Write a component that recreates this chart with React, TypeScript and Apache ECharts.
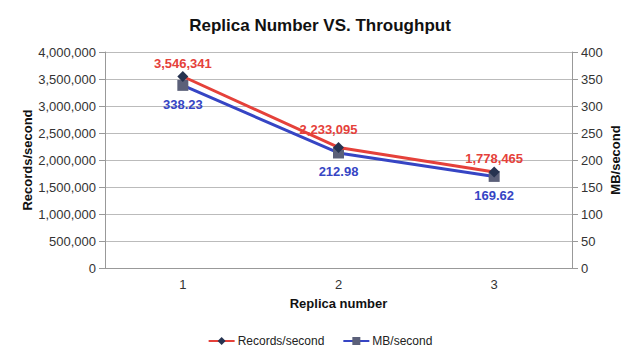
import React, { useEffect, useRef } from "react";
import * as echarts from "echarts";

const categories = ["1", "2", "3"];
const recordsPerSecond = [3546341, 2233095, 1778465];
const mbPerSecond = [338.23, 212.98, 169.62];
const leftAxisName = "Records/second";
const rightAxisName = "MB/second";

export default function App() {
  const ref = useRef<HTMLDivElement>(null);
  useEffect(() => {
    const chart = echarts.init(ref.current!, undefined, { renderer: "svg" });
    const font = "Liberation Sans, Arial, sans-serif";
    const redLabelTweak = [
      { distance: 1, offset: [0, 0] },
      { distance: 6, offset: [-10, 0] },
      { distance: 1, offset: [0, 0] },
    ];
    const nameStyle = (text: string) => ({
      text,
      align: "center",
      verticalAlign: "middle",
      fill: "#111",
      font: `bold 13px ${font}`,
    });
    chart.setOption({
      animation: false,
      backgroundColor: "#ffffff",
      textStyle: { fontFamily: font },
      title: {
        text: "Replica Number VS. Throughput",
        left: "center",
        top: 12,
        textStyle: { fontSize: 17, fontWeight: "bold", color: "#111", fontFamily: font },
      },
      grid: { left: 105, right: 68, top: 52, bottom: 93 },
      graphic: [
        { type: "text", x: 27, y: 160, rotation: Math.PI / 2, style: nameStyle(leftAxisName) },
        { type: "text", x: 615, y: 160, rotation: Math.PI / 2, style: nameStyle(rightAxisName) },
      ],
      legend: {
        bottom: 9,
        left: "center",
        itemWidth: 26,
        itemHeight: 10,
        itemGap: 18,
        textStyle: { fontSize: 12, color: "#222", fontFamily: font, padding: [0, 0, 0, -2] },
        data: [leftAxisName, rightAxisName],
      },
      xAxis: {
        type: "category",
        data: categories,
        name: "Replica number",
        nameLocation: "middle",
        nameGap: 29,
        nameTextStyle: { fontSize: 13, fontWeight: "bold", color: "#111" },
        axisLine: { lineStyle: { color: "#999" } },
        axisTick: { length: 3, lineStyle: { color: "#999" } },
        axisLabel: { fontSize: 13, color: "#333", margin: 10 },
      },
      yAxis: [
        {
          type: "value",
          min: 0,
          max: 4000000,
          interval: 500000,
          axisLine: { show: true, lineStyle: { color: "#999" } },
          axisTick: { show: true, length: 6, lineStyle: { color: "#999" } },
          axisLabel: {
            fontSize: 13,
            color: "#333",
            margin: 9,
            formatter: (v: number) => v.toLocaleString("en-US"),
          },
          splitLine: { show: true, lineStyle: { color: "#bbb" } },
        },
        {
          type: "value",
          min: 0,
          max: 400,
          interval: 50,
          axisLine: { show: true, lineStyle: { color: "#999" } },
          axisTick: { show: true, length: 6, lineStyle: { color: "#999" } },
          axisLabel: { fontSize: 13, color: "#333", margin: 9 },
          splitLine: { show: false },
        },
      ],
      series: [
        {
          name: leftAxisName,
          type: "line",
          yAxisIndex: 0,
          data: recordsPerSecond.map((v, i) => ({ value: v, label: redLabelTweak[i] })),
          symbol: "diamond",
          symbolSize: 11,
          lineStyle: { color: "#e5413a", width: 3 },
          itemStyle: { color: "#263350", borderWidth: 0 },
          label: {
            show: true,
            position: "top",
            color: "#e5413a",
            fontSize: 13,
            fontWeight: "bold",
            formatter: (p: any) => Number(p.value).toLocaleString("en-US"),
          },
          z: 3,
        },
        {
          name: rightAxisName,
          type: "line",
          yAxisIndex: 1,
          data: mbPerSecond,
          symbol: "rect",
          symbolSize: 11,
          lineStyle: { color: "#3645c4", width: 3 },
          itemStyle: { color: "#5b6079", borderWidth: 0 },
          label: {
            show: true,
            position: "bottom",
            distance: 7,
            color: "#3645c4",
            fontSize: 13,
            fontWeight: "bold",
            formatter: (p: any) => Number(p.value).toFixed(2),
          },
          z: 2,
        },
      ],
    });
    return () => chart.dispose();
  }, []);
  return <div ref={ref} style={{ width: 640, height: 361, position: "absolute", left: 0, top: 0 }} />;
}
